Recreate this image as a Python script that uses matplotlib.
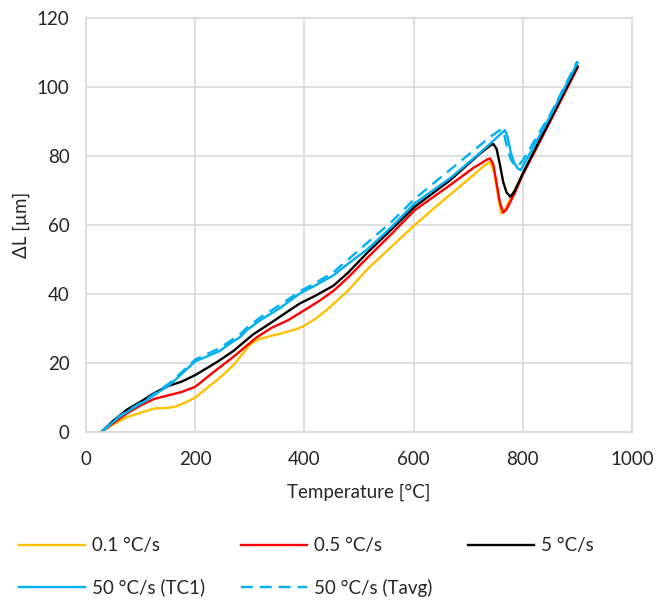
import matplotlib
matplotlib.use("Agg")
import matplotlib.pyplot as plt

plt.rcParams['font.family'] = ['Lato', 'DejaVu Sans']

# ---- data ----
T_01 = [27, 50, 75, 100, 125, 150, 165, 180, 200, 225, 250, 270, 285, 300, 315, 335, 360, 385, 400, 420,
        441, 480, 514, 557, 602, 650, 700, 730, 740, 748, 755, 760, 766, 775, 790, 800, 850, 900]
L_01 = [0, 2.2, 4.3, 5.6, 6.8, 7.0, 7.4, 8.4, 10, 13.2, 16.4, 19.4, 22.3, 25.3, 26.8, 27.7, 28.7, 29.8, 30.8, 32.8,
        35.4, 41, 47, 53.4, 60, 66.6, 73.2, 77.3, 78.3, 75, 68, 63.4, 64, 67, 71.8, 74.8, 90.3, 106]

T_05 = [28, 50, 75, 100, 125, 150, 175, 200, 233, 270, 300, 313, 340, 370, 410, 430, 453, 480, 514, 560,
        602, 667, 710, 735, 740, 746, 752, 758, 764, 770, 785, 800, 850, 900]
L_05 = [0, 2.6, 5.4, 7.7, 9.6, 10.6, 11.6, 13.1, 17.3, 21.8, 25.8, 27.5, 30.2, 32.4, 36.3, 38.3, 40.9, 44.8, 50.3, 57.5,
        64.3, 71.6, 76.6, 79, 79.3, 77.5, 72, 66.5, 63.6, 64.5, 69.2, 74.6, 90, 105.5]

T_5 = [28, 50, 75, 100, 125, 150, 175, 200, 240, 270, 306, 340, 370, 392, 420, 453, 480, 514, 560, 602, 667,
       720, 740, 746, 752, 758, 764, 770, 777, 785, 800, 850, 900]
L_5 = [0, 3.3, 6.5, 8.8, 11.3, 13.3, 14.6, 16.5, 20.3, 23.5, 28.3, 31.8, 35, 37.3, 39.5, 42.4, 46.2, 51.8, 58.8, 65.3, 73,
       80.5, 83, 83.5, 82, 77.5, 72.5, 69.5, 68.2, 69.8, 75, 90.5, 106]

T_50 = [28, 60, 90, 112, 135, 154, 175, 200, 220, 245, 265, 282, 295, 320, 355, 392, 420, 453, 480, 514, 560,
        602, 667, 720, 750, 760, 767, 772, 778, 784, 790, 796, 805, 850, 900]
L_50 = [0, 4.3, 7.3, 9.3, 11.8, 13.8, 16.8, 20.5, 21.8, 23.5, 25.8, 27.5, 29.6, 32.5, 35.9, 40.2, 42.5, 45.4, 48.8, 52.8, 59.5,
        66.3, 73.6, 80.7, 85, 86.5, 87.5, 85.5, 81, 78, 76.5, 75.9, 78.5, 91.5, 107]

T_50avg = [28, 60, 90, 112, 135, 154, 175, 200, 220, 245, 265, 282, 295, 320, 355, 392, 420, 453, 480, 514, 560,
           602, 655, 700, 740, 755, 761, 766, 772, 778, 784, 791, 800, 850, 900]
L_50avg = [0, 4.5, 7.5, 9.6, 12.2, 14.3, 17.3, 21, 22.5, 24.3, 26.5, 28.3, 30.3, 33.3, 36.8, 40.8, 43.2, 46.3, 50, 54.7, 61,
           67.6, 74.5, 80.3, 85.5, 87.2, 87.7, 86, 82, 79, 77.5, 77, 78.8, 92, 107.5]

labels = ['0.1 °C/s', '0.5 °C/s', '5 °C/s', '50 °C/s (TC1)', '50 °C/s (Tavg)']
x_ticks = [0, 200, 400, 600, 800, 1000]
y_ticks = [0, 20, 40, 60, 80, 100, 120]

# ---- figure ----
FS = 13.5
fig = plt.figure(figsize=(6.57, 6.0), dpi=100)
ax = fig.add_axes([0.131, 0.28, 0.831, 0.69])

lw = 1.7
h1, = ax.plot(T_01, L_01, color='#FFC000', lw=lw, label=labels[0])
h2, = ax.plot(T_05, L_05, color='#FF0000', lw=lw, label=labels[1])
h3, = ax.plot(T_5, L_5, color='#000000', lw=lw, label=labels[2])
h4, = ax.plot(T_50, L_50, color='#00B0F0', lw=lw, label=labels[3])
h5, = ax.plot(T_50avg, L_50avg, color='#00B0F0', lw=lw, ls=(0, (5, 3)), label=labels[4])

ax.set_xlim(0, 1000)
ax.set_ylim(0, 120)
ax.set_xticks(x_ticks)
ax.set_yticks(y_ticks)
ax.grid(True, color='#D9D9D9', lw=1.2)
ax.set_axisbelow(True)
for s in ax.spines.values():
    s.set_color('#D9D9D9')
    s.set_linewidth(1.2)
ax.tick_params(length=0, labelsize=FS, colors='#262626')
ax.tick_params(axis='y', pad=12)
ax.tick_params(axis='x', pad=14)

ax.set_xlabel('Temperature [°C]', fontsize=FS, labelpad=11, color='#262626')
ax.set_ylabel('ΔL [µm]', fontsize=FS, labelpad=5, color='#262626')

handles = [h1, h4, h2, h5, h3]
leg = fig.legend(handles=handles, labels=[h.get_label() for h in handles],
                 ncol=3, loc='upper left', bbox_to_anchor=(0.018, 0.117),
                 frameon=False, fontsize=FS, handlelength=3.5, handletextpad=0.4,
                 columnspacing=1.9, labelspacing=1.3, borderaxespad=0,
                 labelcolor='#262626')

fig.savefig('out.png', dpi=100)
